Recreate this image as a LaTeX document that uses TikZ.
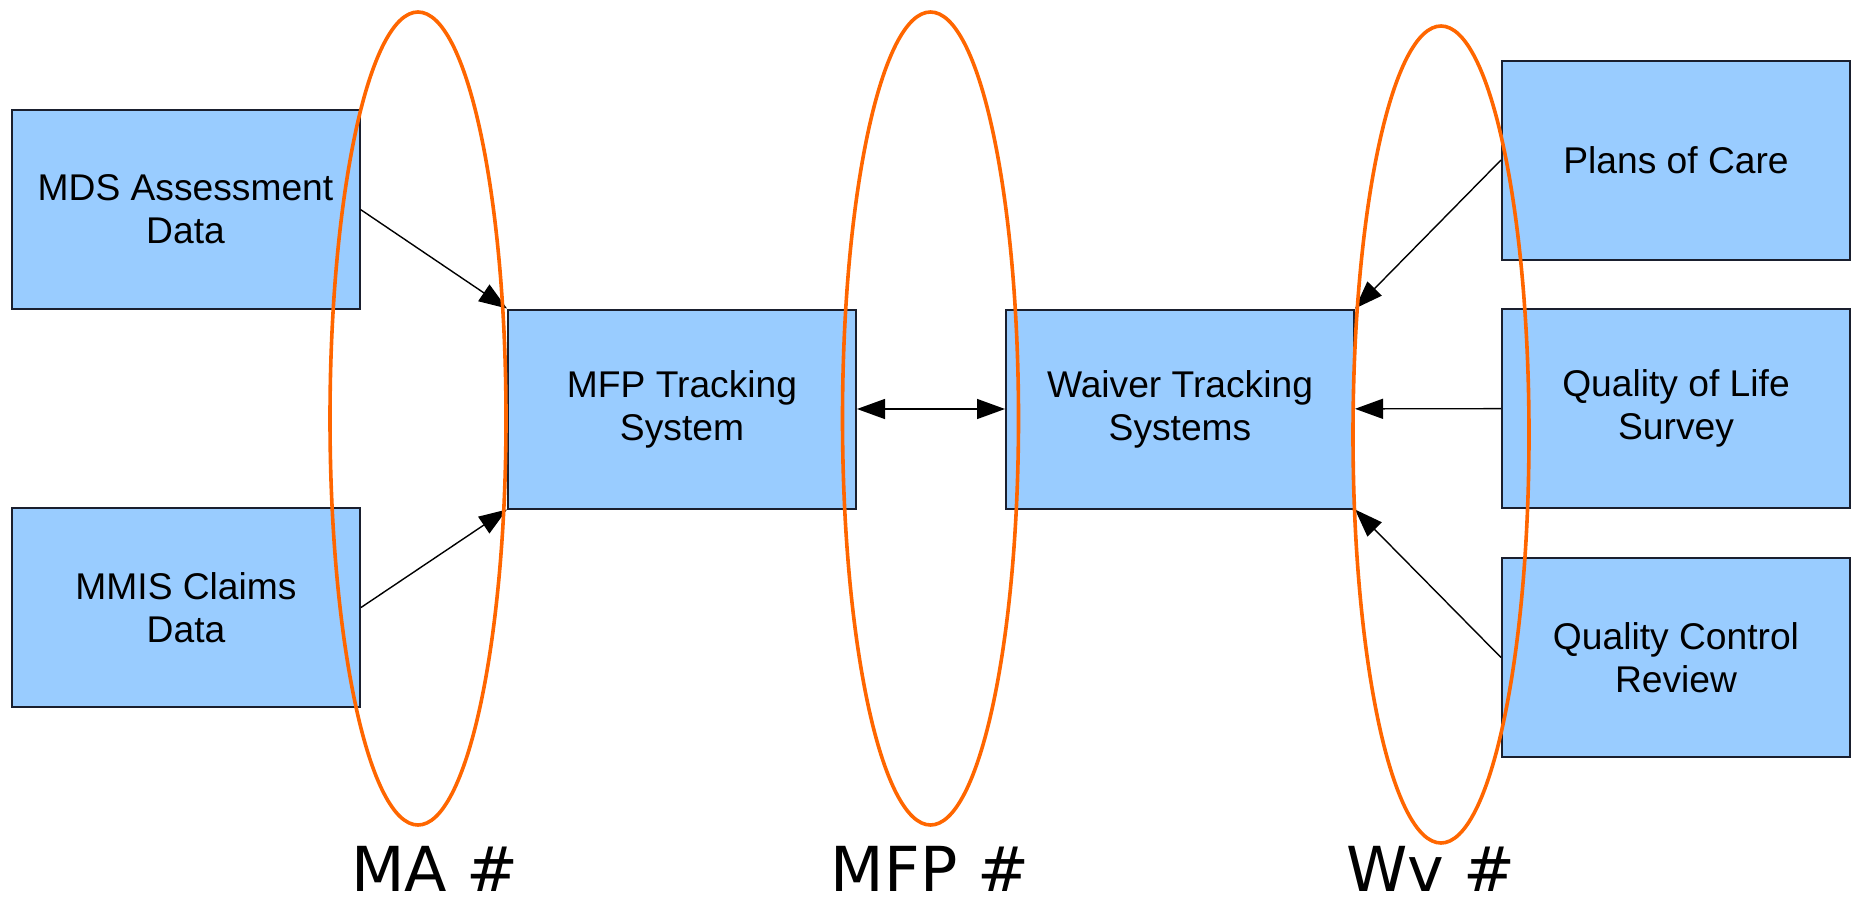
\documentclass[tikz,border=0pt]{standalone}
\usepackage{fontspec}
\setmainfont{Liberation Sans}
\newfontfamily\labfont{DejaVu Sans}
\usetikzlibrary{arrows.meta}
\definecolor{boxblue}{HTML}{99CCFF}
\definecolor{ringorange}{HTML}{FF6600}
\definecolor{edgecol}{HTML}{1A1F2E}
\begin{document}
\begin{tikzpicture}[x=0.5pt,y=-0.5pt,
  sysbox/.style={draw=edgecol, line width=1pt, fill=boxblue, minimum width=174pt,
    minimum height=99.5pt, inner sep=0pt, align=center,
    font=\fontsize{18.6}{21.5}\selectfont},
  conn/.style={line width=0.7pt, -{Triangle[length=14pt,width=10pt]}},
  bothconn/.style={line width=0.7pt, {Triangle[length=14pt,width=10pt]}-{Triangle[length=14pt,width=10pt]}},
  ring/.style={draw=ringorange, line width=1.8pt},
  grp/.style={font=\labfont\fontsize{31}{36}\selectfont, anchor=base, inner sep=0pt}]
\useasboundingbox (0,0) rectangle (1854,905);

\node[sysbox] (mds)  at (185.5,209.5) {MDS Assessment\\Data};
\node[sysbox] (mmis) at (186,607.5)   {MMIS Claims\\Data};
\node[sysbox] (mfp)  at (682,409)     {MFP Tracking\\System};
\node[sysbox] (wts)  at (1180,409)    {Waiver Tracking\\Systems};
\node[sysbox] (poc)  at (1676,160)    {Plans of Care};
\node[sysbox] (qol)  at (1676,408.5)  {Quality of Life\\Survey};
\node[sysbox] (qcr)  at (1676,657.5)  {Quality Control\\Review};

\draw[conn] (mds.east) -- (mfp.north west);
\draw[conn] (mmis.east) -- (mfp.south west);
\draw[bothconn] (mfp) -- (wts);
\draw[conn] (poc.west) -- (wts.north east);
\draw[conn] (qol) -- (wts);
\draw[conn] (qcr.west) -- (wts.south east);

\draw[ring] (418,418.5) ellipse [x radius=44pt, y radius=203.25pt];
\draw[ring] (930.5,418.5) ellipse [x radius=44pt, y radius=203.25pt];
\draw[ring] (1441,434.5) ellipse [x radius=44pt, y radius=204.25pt];

\node[grp] (lma)  at (435,891)  {MA \#};
\node[grp] (lmfp) at (930,891)  {MFP \#};
\node[grp] (lwv)  at (1431,891) {Wv \#};
\end{tikzpicture}
\end{document}
